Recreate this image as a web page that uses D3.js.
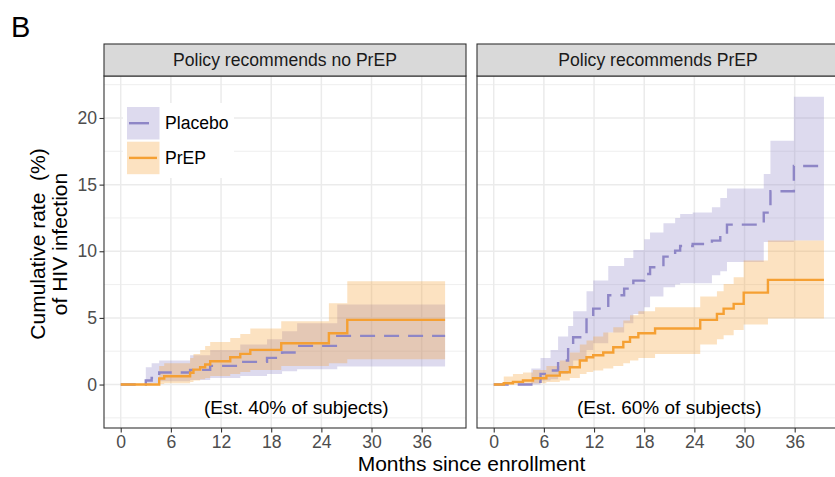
<!DOCTYPE html>
<html>
<head>
<meta charset="utf-8">
<script src="https://cdn.jsdelivr.net/npm/d3@7"></script>
<style>
  body { margin: 0; background: #fff; }
  svg text { font-family: "Liberation Sans", Arial, sans-serif; white-space: pre; }
</style>
</head>
<body>
<div id="chart"></div>
<script>
var xTicks = [0, 6, 12, 18, 24, 30, 36];
var yTicks = [0, 5, 10, 15, 20];
var yMinor = [-2.5, 2.5, 7.5, 12.5, 17.5, 22.5];
var facets = ["Policy recommends no PrEP", "Policy recommends PrEP"];
var notes = ["(Est. 40% of subjects)", "(Est. 60% of subjects)"];
var groups = ["Placebo", "PrEP"];
var lastMonth = [38.8, 39.5];

// policy recommends no PrEP
var noPlaceboT   = [0, 3.0, 3.7, 4.6, 8.3, 10.7, 14.3, 17.5, 19.3, 21.1, 25.9];
var noPlaceboEst = [0, 0.3, 0.5, 0.9, 1.1, 1.4, 1.7, 2.0, 2.4, 2.9, 3.65];
var noPlaceboLo  = [0, 0.05, 0.1, 0.25, 0.35, 0.5, 0.65, 0.8, 1.0, 1.15, 1.35];
var noPlaceboHi  = [0, 1.3, 1.6, 1.8, 2.2, 2.6, 3.0, 3.4, 4.0, 4.6, 6.0];
var noPrepT   = [0, 4.6, 5.2, 8.3, 8.7, 9.5, 10.1, 10.7, 13.1, 14.3, 15.5, 19.2, 24.9, 27.1];
var noPrepEst = [0, 0.45, 0.62, 0.88, 1.12, 1.3, 1.5, 1.75, 2.05, 2.3, 2.6, 3.1, 3.85, 4.85];
var noPrepLo  = [0, 0.05, 0.1, 0.2, 0.3, 0.4, 0.5, 0.65, 0.8, 0.95, 1.1, 1.4, 1.6, 1.9];
var noPrepHi  = [0, 1.4, 1.6, 2.0, 2.3, 2.6, 2.9, 3.2, 3.5, 3.8, 4.2, 4.75, 6.1, 7.75];

// policy recommends PrEP
var recPlaceboT   = [0, 4.5, 5.6, 6.8, 7.7, 8.9, 9.5, 11.1, 11.9, 13.7, 15.6, 16.7, 18.0, 18.7, 20.3, 21.7, 22.3, 23.8, 26.1, 27.1, 27.9, 32.3, 33.1, 35.9];
var recPlaceboEst = [0, 0.2, 0.8, 1.05, 1.8, 2.8, 3.55, 5.0, 5.7, 6.7, 7.2, 7.8, 8.3, 8.8, 9.6, 10.05, 10.4, 10.55, 10.8, 11.2, 12.0, 12.9, 14.5, 16.4];
var recPlaceboLo  = [0, 0, 0.3, 0.4, 0.8, 1.3, 1.8, 2.6, 3.1, 3.9, 4.6, 5.3, 5.8, 6.6, 7.3, 7.5, 7.6, 7.6, 8.2, 8.5, 9.2, 10.7, 10.7, 10.8];
var recPlaceboHi  = [0, 1.2, 2.0, 2.6, 3.6, 4.4, 5.5, 7.0, 7.8, 8.9, 9.5, 10.1, 10.9, 11.4, 12.1, 12.5, 12.8, 12.9, 13.3, 14.0, 14.7, 15.8, 18.3, 21.6];
var recPrepT   = [0, 1.2, 2.3, 3.5, 4.7, 6.3, 7.9, 9.1, 10.3, 11.1, 11.9, 13.1, 14.3, 15.5, 16.3, 17.3, 19.3, 24.7, 26.7, 27.5, 28.7, 29.9, 32.8];
var recPrepEst = [0, 0.1, 0.2, 0.3, 0.47, 0.67, 0.92, 1.3, 1.8, 2.05, 2.2, 2.4, 2.8, 3.2, 3.55, 3.85, 4.2, 4.85, 5.3, 5.7, 6.05, 6.9, 7.85];
var recPrepLo  = [0, 0, 0, 0.05, 0.1, 0.2, 0.3, 0.5, 0.8, 0.95, 1.05, 1.2, 1.4, 1.6, 1.8, 2.0, 2.3, 3.0, 3.4, 3.7, 4.1, 4.5, 4.95];
var recPrepHi  = [0, 0.6, 0.8, 0.9, 1.1, 1.4, 1.8, 2.4, 3.0, 3.3, 3.6, 3.9, 4.3, 4.8, 5.2, 5.5, 5.8, 6.6, 7.0, 7.55, 8.05, 9.3, 10.8];

var colors = {Placebo: "#8e86c6", PrEP: "#f5a033"};

// rows of {t, est, lo, hi}, last step carried out to the end of follow-up
function steps(t, est, lo, hi, end) {
    var rows = t.map((d, i) => ({t: d, est: est[i], lo: lo[i], hi: hi[i]}));
    var last = rows[rows.length - 1];
    rows.push({t: end, est: last.est, lo: last.lo, hi: last.hi});
    return rows;
}

var series = [
    [{group: "Placebo", rows: steps(noPlaceboT, noPlaceboEst, noPlaceboLo, noPlaceboHi, lastMonth[0])},
     {group: "PrEP", rows: steps(noPrepT, noPrepEst, noPrepLo, noPrepHi, lastMonth[0])}],
    [{group: "Placebo", rows: steps(recPlaceboT, recPlaceboEst, recPlaceboLo, recPlaceboHi, lastMonth[1])},
     {group: "PrEP", rows: steps(recPrepT, recPrepEst, recPrepLo, recPrepHi, lastMonth[1])}]
];

var W = 835, H = 477;
var panelX = [104, 477], panelW = 362, stripTop = 44, stripH = 32, panelTop = 76, panelH = 352;

var svg = d3.select("#chart").append("svg").attr("width", W).attr("height", H);

var x = d3.scaleLinear().domain([-2.0, 41.3]).range([0, panelW]);
var y = d3.scaleLinear().domain([-3.26, 23.15]).range([panelH, 0]);

var line = d3.line().curve(d3.curveStepAfter).x(d => x(d.t)).y(d => y(d.est));
var band = d3.area().curve(d3.curveStepAfter).x(d => x(d.t)).y0(d => y(d.lo)).y1(d => y(d.hi));

svg.append("text").attr("x", 11).attr("y", 37)
    .style("font-size", "29px").text("B");

facets.forEach(function (name, k) {
    var g = svg.append("g").attr("transform", "translate(" + panelX[k] + "," + panelTop + ")");

    // grid
    g.selectAll("line.minor").data(yMinor).enter().append("line")
        .attr("x1", 0).attr("x2", panelW).attr("y1", d => y(d)).attr("y2", d => y(d))
        .attr("stroke", "#ebebeb").attr("stroke-width", 0.8);
    g.selectAll("line.gy").data(yTicks).enter().append("line")
        .attr("x1", 0).attr("x2", panelW).attr("y1", d => y(d)).attr("y2", d => y(d))
        .attr("stroke", "#ebebeb").attr("stroke-width", 1.5);
    g.selectAll("line.gx").data(xTicks).enter().append("line")
        .attr("y1", 0).attr("y2", panelH).attr("x1", d => x(d)).attr("x2", d => x(d))
        .attr("stroke", "#ebebeb").attr("stroke-width", 1.5);

    // ribbons then lines, PrEP on top
    series[k].forEach(function (s) {
        g.append("path").attr("d", band(s.rows))
            .attr("fill", colors[s.group]).attr("fill-opacity", 0.3);
    });
    series[k].forEach(function (s) {
        g.append("path").attr("d", line(s.rows))
            .attr("fill", "none").attr("stroke", colors[s.group])
            .attr("stroke-width", 2.4)
            .attr("stroke-dasharray", s.group == "Placebo" ? "15,9" : null);
    });

    g.append("text").attr("x", x(21)).attr("y", y(-1.7))
        .attr("text-anchor", "middle").attr("dominant-baseline", "central")
        .style("font-size", "19px").attr("fill", "#000").text(notes[k]);

    g.append("rect").attr("width", panelW).attr("height", panelH)
        .attr("fill", "none").attr("stroke", "#333").attr("stroke-width", 1.1);

    // strip
    svg.append("rect").attr("x", panelX[k]).attr("y", stripTop)
        .attr("width", panelW).attr("height", stripH)
        .attr("fill", "#d9d9d9").attr("stroke", "#333").attr("stroke-width", 1.1);
    svg.append("text").attr("x", panelX[k] + panelW / 2).attr("y", stripTop + stripH / 2)
        .attr("text-anchor", "middle").attr("dominant-baseline", "central")
        .style("font-size", "17.6px").attr("fill", "#1a1a1a").text(name);

    var ax = g.append("g").attr("transform", "translate(0," + panelH + ")")
        .call(d3.axisBottom(x).tickValues(xTicks).tickSize(4.5).tickPadding(3));
    ax.select(".domain").remove();
    ax.selectAll("line").attr("stroke", "#333").attr("stroke-width", 1.1);
    ax.selectAll("text").attr("fill", "#4d4d4d").style("font-size", "17.6px");

    if (k == 0) {
        var ay = g.append("g")
            .call(d3.axisLeft(y).tickValues(yTicks).tickSize(4.5).tickPadding(2.5));
        ay.select(".domain").remove();
        ay.selectAll("line").attr("stroke", "#333").attr("stroke-width", 1.1);
        ay.selectAll("text").attr("fill", "#4d4d4d").style("font-size", "17.6px");

        // legend
        var lg = g.append("g").attr("transform", "translate(19,27)");
        lg.append("rect").attr("width", 111).attr("height", 75).attr("fill", "#fff");
        groups.forEach(function (grp, i) {
            var ky = 4 + i * 34.7;
            lg.append("rect").attr("x", 4).attr("y", ky).attr("width", 32.5).attr("height", 32.5)
                .attr("fill", colors[grp]).attr("fill-opacity", 0.3);
            lg.append("line").attr("x1", 6).attr("x2", grp == "Placebo" ? 26 : 34)
                .attr("y1", ky + 16.2).attr("y2", ky + 16.2)
                .attr("stroke", colors[grp]).attr("stroke-width", 2.4);
            lg.append("text").attr("x", 42).attr("y", ky + 16.2)
                .attr("dominant-baseline", "central")
                .style("font-size", "17.6px").attr("fill", "#000").text(grp);
        });
    }
});

svg.append("text").attr("x", (panelX[0] + panelX[1] + panelW) / 2).attr("y", 471)
    .attr("text-anchor", "middle").style("font-size", "21px").text("Months since enrollment");

var yt = svg.append("text").attr("transform", "translate(0,244) rotate(-90)")
    .attr("text-anchor", "middle").style("font-size", "21px");
yt.append("tspan").attr("x", 0).attr("y", 45).text("Cumulative rate  (%)");
yt.append("tspan").attr("x", 0).attr("y", 67).text("of HIV infection");
</script>
</body>
</html>
